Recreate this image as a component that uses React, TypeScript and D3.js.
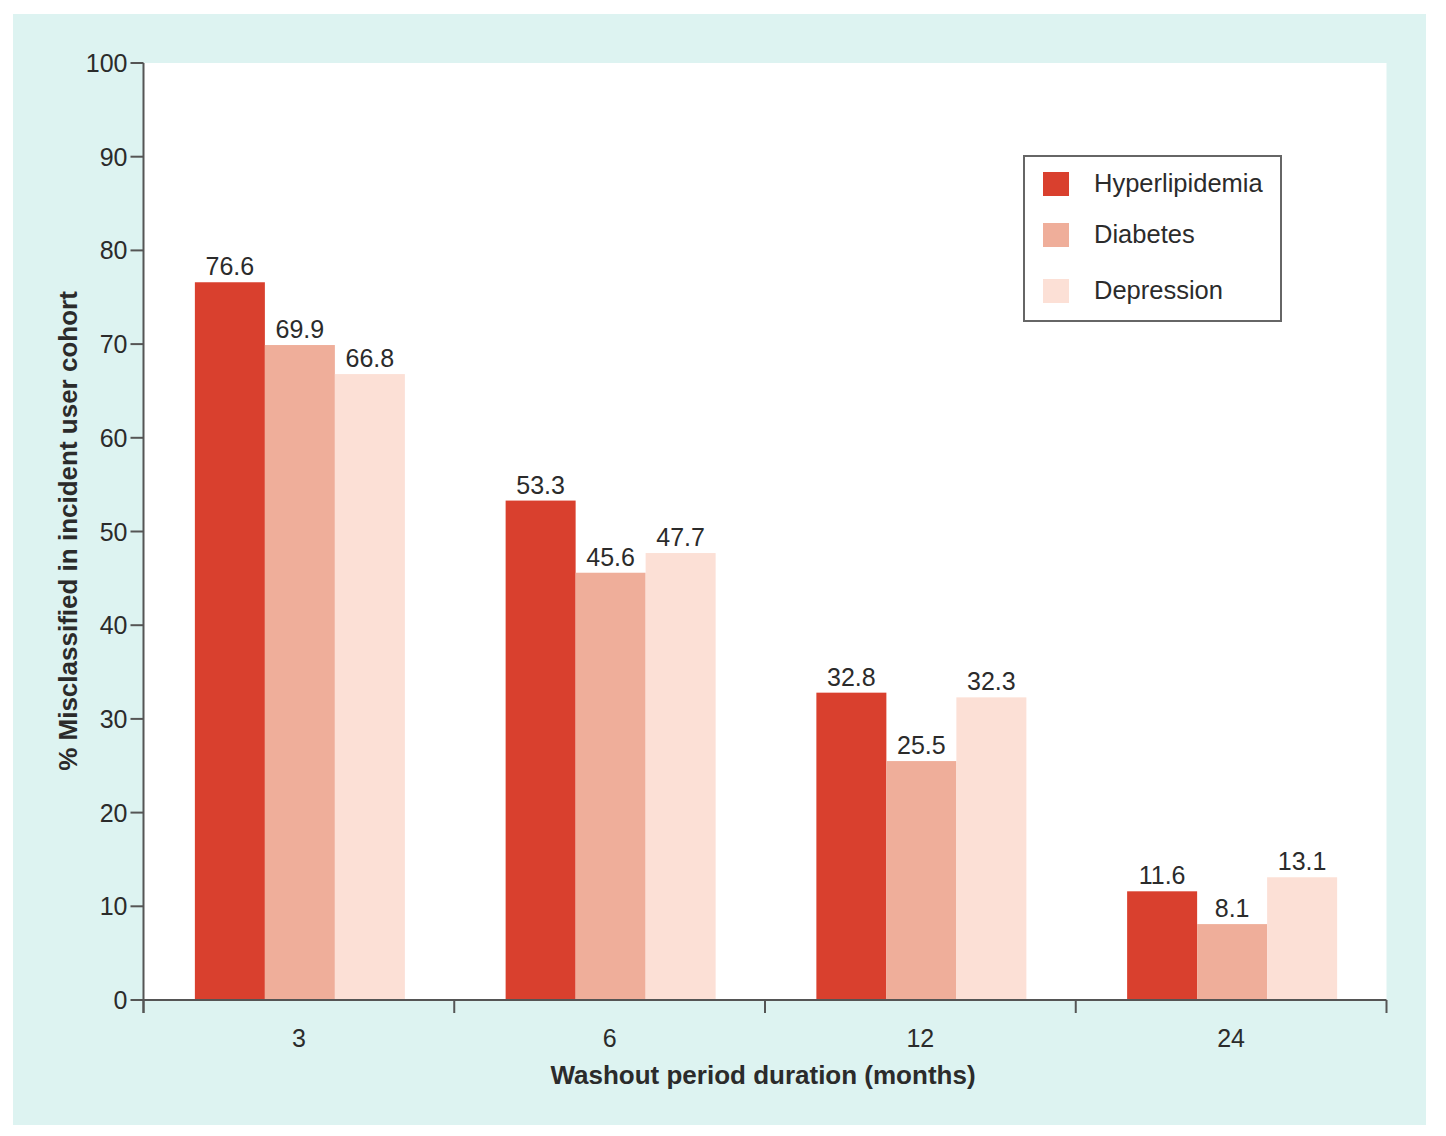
import React from "react";
import { scaleBand, scaleLinear } from "d3";

const durations = ["3", "6", "12", "24"];
const series = ["Hyperlipidemia", "Diabetes", "Depression"];
const hyperlipidemia = [76.6, 53.3, 32.8, 11.6];
const diabetes = [69.9, 45.6, 25.5, 8.1];
const depression = [66.8, 47.7, 32.3, 13.1];
const yTicks = [0, 10, 20, 30, 40, 50, 60, 70, 80, 90, 100];

const values = [hyperlipidemia, diabetes, depression];
const colors = ["#d9402e", "#efae9a", "#fce0d6"];

const W = 1446;
const H = 1136;
const left = 143.5;
const right = 1386.5;
const top = 63;
const bottom = 1000;
const font = "'Liberation Sans', Arial, Helvetica, sans-serif";
const ink = "#2b2b2b";
const axisColor = "#555";

const x = scaleBand<string>().domain(durations).range([left, right]);
const y = scaleLinear().domain([0, 100]).range([bottom, top]);
const groupW = 210;
const inner = scaleBand<string>().domain(series).range([0, groupW]);

export default function App() {
  return (
    <svg
      width={W}
      height={H}
      style={{ position: "absolute", left: 0, top: 0, fontFamily: font }}
    >
      <rect x={13} y={14} width={1413} height={1111} fill="#ddf3f1" />
      <rect x={left} y={top} width={right - left} height={bottom - top} fill="#fff" />

      {durations.map((d, i) => {
        const gx = x(d)! + x.bandwidth() / 2 - groupW / 2 + 1;
        return (
          <g key={d}>
            {series.map((s, j) => {
              const v = values[j][i];
              const bx = gx + inner(s)!;
              return (
                <g key={s}>
                  <rect
                    x={bx}
                    y={y(v)}
                    width={inner.bandwidth()}
                    height={y(0) - y(v)}
                    fill={colors[j]}
                  />
                  <text
                    x={bx + inner.bandwidth() / 2}
                    y={y(v) - 7}
                    textAnchor="middle"
                    fontSize={25}
                    fill={ink}
                  >
                    {v.toFixed(1)}
                  </text>
                </g>
              );
            })}
          </g>
        );
      })}

      {/* y axis */}
      <line x1={left} x2={left} y1={top} y2={bottom + 13} stroke={axisColor} strokeWidth={2} />
      {yTicks.map((t) => (
        <g key={t}>
          <line x1={left - 13} x2={left} y1={y(t)} y2={y(t)} stroke={axisColor} strokeWidth={2} />
          <text
            x={left - 16}
            y={y(t)}
            dy="0.36em"
            textAnchor="end"
            fontSize={25}
            fill={ink}
          >
            {t}
          </text>
        </g>
      ))}

      {/* x axis */}
      <line x1={left} x2={right} y1={bottom} y2={bottom} stroke={axisColor} strokeWidth={2} />
      {[...durations.map((d) => x(d)!), right].map((px, i) => (
        <line key={i} x1={px} x2={px} y1={bottom} y2={bottom + 13} stroke={axisColor} strokeWidth={2} />
      ))}
      {durations.map((d) => (
        <text
          key={d}
          x={x(d)! + x.bandwidth() / 2}
          y={1047}
          textAnchor="middle"
          fontSize={25}
          fill={ink}
        >
          {d}
        </text>
      ))}

      <text
        x={763}
        y={1084}
        textAnchor="middle"
        fontSize={26}
        fontWeight="bold"
        fill={ink}
      >
        Washout period duration (months)
      </text>
      <text
        transform={`translate(77, 531) rotate(-90)`}
        textAnchor="middle"
        fontSize={26}
        fontWeight="bold"
        fill={ink}
      >
        % Misclassified in incident user cohort
      </text>

      {/* legend */}
      <rect x={1024} y={156} width={257} height={165} fill="#fff" stroke="#666" strokeWidth={2} />
      {series.map((s, j) => {
        const ly = [172, 223, 279][j];
        return (
          <g key={s}>
            <rect x={1043} y={ly} width={26} height={24} fill={colors[j]} />
            <text x={1094} y={ly + 20} fontSize={25.5} fill={ink}>
              {s}
            </text>
          </g>
        );
      })}
    </svg>
  );
}
